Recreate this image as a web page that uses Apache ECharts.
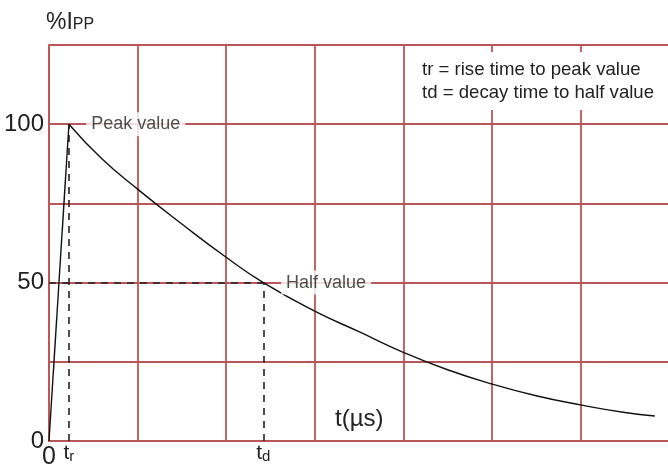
<!DOCTYPE html>
<html>
<head>
<meta charset="utf-8">
<script src="https://cdn.jsdelivr.net/npm/echarts@6/dist/echarts.min.js"></script>
<style>
  html, body { margin: 0; padding: 0; background: #fff; }
  #chart { width: 668px; height: 466px; }
</style>
</head>
<body>
<div id="chart"></div>
<script>
// time in grid divisions, current in % of peak
const riseT = [0, 0.225];
const riseV = [0, 100];
const decayT = [0.225, 0.6, 1, 1.5, 2, 2.42, 3, 3.5, 4, 4.5, 5, 5.5, 6, 6.5, 6.84];
const decayV = [100, 89, 79.5, 68.5, 58, 50, 41, 34.5, 28, 22.5, 18, 14.3, 11.4, 9, 7.9];
const yTicks = [0, 50, 100];
const tr = 0.225;
const td = 2.42;
const peakLabelAt = [0.42, 100];
const halfLabelAt = [2.62, 50];
const notes = ['tr = rise time to peak value', 'td = decay time to half value'];

const gridColor = '#b9565a';
const font = 'Liberation Sans, Arial, sans-serif';

let myChart = echarts.init(document.getElementById('chart'));

const subRich = {
  t: { fontSize: 21, color: '#222', fontFamily: font },
  s: { fontSize: 15, color: '#222', fontFamily: font, padding: [6, 0, 0, 0] }
};

const option = {
  backgroundColor: '#fff',
  animation: false,
  grid: { left: 49, right: -1, top: 45, bottom: 25, outerBoundsMode: 'none' },
  xAxis: {
    type: 'value',
    min: 0, max: 7, interval: 1,
    axisLine: { show: true, lineStyle: { color: gridColor, width: 1.8 } },
    axisTick: { show: false },
    splitLine: { show: true, lineStyle: { color: gridColor, width: 1.8 } },
    axisLabel: {
      margin: 4,
      fontSize: 25, color: '#222', fontFamily: font,
      formatter: function (v) { return v === 0 ? '0' : ''; }
    }
  },
  yAxis: {
    type: 'value',
    min: 0, max: 125, interval: 25,
    name: '{a|%I}{b|PP}',
    nameLocation: 'end',
    nameGap: 11,
    nameTextStyle: {
      align: 'left',
      padding: [0, 0, 0, -3],
      rich: {
        a: { fontSize: 23, color: '#222', fontFamily: font },
        b: { fontSize: 16, color: '#222', fontFamily: font, padding: [4, 0, 0, 0] }
      }
    },
    axisLine: { show: true, lineStyle: { color: gridColor, width: 1.8 } },
    axisTick: { show: false },
    splitLine: { show: true, lineStyle: { color: gridColor, width: 1.8 } },
    axisLabel: {
      margin: 5,
      fontSize: 24, color: '#222', fontFamily: font,
      formatter: function (v) { return yTicks.indexOf(v) >= 0 ? String(v) : ''; }
    }
  },
  graphic: [
    {
      type: 'text',
      left: 416, top: 52,
      z: 10,
      style: {
        text: notes.join('\n'),
        font: '18.6px ' + font,
        lineHeight: 23,
        fill: '#222',
        backgroundColor: '#fff',
        padding: [6, 4, 6, 6]
      }
    },
    {
      type: 'text',
      left: 335, top: 407,
      z: 10,
      style: { text: 't(µs)', font: '24px ' + font, fill: '#222' }
    }
  ],
  series: [
    {
      type: 'line',
      data: riseT.map((t, i) => [t, riseV[i]]),
      symbol: 'none',
      lineStyle: { color: '#111', width: 1.4 },
      z: 5
    },
    {
      type: 'line',
      data: decayT.map((t, i) => [t, decayV[i]]),
      symbol: 'none',
      smooth: 0.5,
      lineStyle: { color: '#111', width: 1.4 },
      z: 5
    },
    {
      type: 'line',
      data: [],
      z: 4,
      markLine: {
        silent: true,
        symbol: ['none', 'none'],
        lineStyle: { color: '#222', type: [7, 6], width: 1.6 },
        data: [
          [{ coord: [tr, 0], label: { show: true, position: 'start', distance: 2, formatter: '{t|t}{s|r}', rich: subRich } },
           { coord: [tr, 100] }],
          [{ coord: [td, 0], label: { show: true, position: 'start', distance: 2, formatter: '{t|t}{s|d}', rich: subRich } },
           { coord: [td, 50] }],
          [{ coord: [0, 50], label: { show: false } }, { coord: [td, 50] }]
        ]
      }
    },
    {
      type: 'scatter',
      symbolSize: 0,
      z: 6,
      data: [
        { value: peakLabelAt, name: 'Peak value' },
        { value: halfLabelAt, name: 'Half value' }
      ],
      label: {
        show: true,
        position: 'right',
        distance: 0,
        formatter: '{b}',
        fontSize: 18, color: '#222', fontFamily: font,
        backgroundColor: '#fff',
        padding: [3, 5, 3, 5]
      }
    }
  ]
};
myChart.setOption(option);
</script>
</body>
</html>
